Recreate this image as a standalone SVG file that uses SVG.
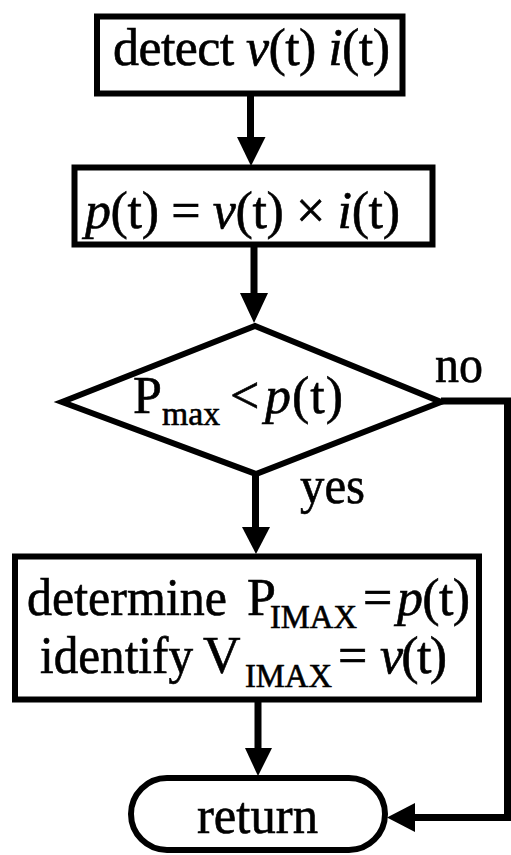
<svg xmlns="http://www.w3.org/2000/svg" width="511" height="855" viewBox="0 0 511 855">
<style>
.shape{fill:#fff;stroke:#000;stroke-width:6}
.conn{fill:none;stroke:#000;stroke-width:7}
.head{fill:#000;stroke:none}
text{font-family:"Liberation Serif","Times New Roman",serif;font-size:52px;fill:#000;stroke:#000;stroke-width:0.6}
.it{font-style:italic}
.sub{font-size:33px}
</style>
<rect width="511" height="855" fill="#fff"/>
<g id="connectors">
<line class="conn" x1="250.5" y1="96" x2="250.5" y2="140"/>
<polygon class="head" points="237,137 265.5,137 251,166"/>
<line class="conn" x1="254" y1="247" x2="254" y2="296"/>
<polygon class="head" points="240,293 268,293 254,323"/>
<line class="conn" x1="255.5" y1="474" x2="255.5" y2="530"/>
<polygon class="head" points="242,527 270,527 256,554"/>
<line class="conn" x1="258" y1="702" x2="258" y2="751"/>
<polygon class="head" points="245,748 272,748 258,776"/>
<polyline class="conn" points="441,401 507.5,401 507.5,817.5 412,817.5"/>
<polygon class="head" points="415,803 415,832 387,817.5"/>
<text x="300" y="503" textLength="65" lengthAdjust="spacingAndGlyphs">yes</text>
<text x="435" y="382" textLength="48" lengthAdjust="spacingAndGlyphs">no</text>
</g>
<g id="detect">
<rect class="shape" x="97" y="16.5" width="305.5" height="77"/>
<text x="113" y="65" textLength="277" lengthAdjust="spacing">detect <tspan class="it">v</tspan>(t) <tspan class="it">i</tspan>(t)</text>
</g>
<g id="power">
<rect class="shape" x="74.5" y="167.5" width="358" height="77"/>
<text x="85" y="228" textLength="315" lengthAdjust="spacing"><tspan class="it">p</tspan>(t) = <tspan class="it">v</tspan>(t) × <tspan class="it">i</tspan>(t)</text>
</g>
<g id="decision">
<polygon class="shape" points="62,402 255,326 441,402 256,474"/>
<text x="133" y="413">P</text>
<text class="sub" x="162" y="425" textLength="58" lengthAdjust="spacingAndGlyphs">max</text>
<text x="230" y="413">&lt;</text>
<text x="265" y="413" textLength="78" lengthAdjust="spacing"><tspan class="it">p</tspan>(t)</text>
</g>
<g id="determine">
<rect class="shape" x="15" y="556.5" width="464" height="143"/>
<text x="27" y="615" textLength="200" lengthAdjust="spacingAndGlyphs">determine</text>
<text x="247" y="615">P</text>
<text class="sub" x="270" y="628" textLength="87" lengthAdjust="spacingAndGlyphs">IMAX</text>
<text x="363" y="615">=</text>
<text x="397" y="615" textLength="73" lengthAdjust="spacing"><tspan class="it">p</tspan>(t)</text>
<text x="40" y="673" textLength="153" lengthAdjust="spacingAndGlyphs">identify</text>
<text x="203" y="673">V</text>
<text class="sub" x="245" y="687" textLength="87" lengthAdjust="spacingAndGlyphs">IMAX</text>
<text x="338" y="673">=</text>
<text x="380" y="673" textLength="67" lengthAdjust="spacing"><tspan class="it">v</tspan>(t)</text>
</g>
<g id="return">
<rect class="shape" x="131" y="778" width="254" height="72" rx="36" ry="36"/>
<text x="197" y="833" textLength="121" lengthAdjust="spacingAndGlyphs">return</text>
</g>
</svg>
